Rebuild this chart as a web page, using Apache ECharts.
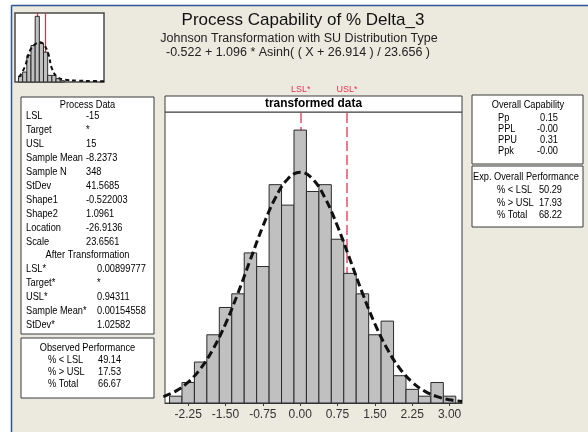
<!DOCTYPE html>
<html>
<head>
<meta charset="utf-8">
<script src="https://cdn.jsdelivr.net/npm/echarts@6.0.0/dist/echarts.min.js"></script>
<style>
  html, body { margin: 0; padding: 0; background: #fff; }
  #chart { width: 588px; height: 432px; }
</style>
</head>
<body>
<div id="chart"></div>
<script>
// transformed data histogram (bin width 0.25)
const binCenters = [-2.5, -2.25, -2.0, -1.75, -1.5, -1.25, -1.0, -0.75, -0.5, -0.25, 0, 0.25,
  0.5, 0.75, 1.0, 1.25, 1.5, 1.75, 2.0, 2.25, 2.5, 2.75, 3.0];
const binCounts = [1, 3, 6, 10, 14, 16, 22, 20, 32, 29, 40, 31, 32, 24, 19, 16, 10, 12, 4, 2, 1, 3, 1];
const binWidth = 0.25;

// fitted normal curve
const fitX = [-2.75, -2.5, -2.25, -2.0, -1.75, -1.5, -1.25, -1.0, -0.75, -0.5, -0.25, 0,
  0.25, 0.5, 0.75, 1.0, 1.25, 1.5, 1.75, 2.0, 2.25, 2.5, 2.75, 3.0, 3.25];
const fitY = [0.93, 1.74, 3.05, 5.06, 7.9, 11.61, 16.1, 21.04, 25.9, 30.04, 32.84, 33.83,
  32.84, 30.04, 25.9, 21.04, 16.1, 11.61, 7.9, 5.06, 3.05, 1.74, 0.93, 0.47, 0.22];

const xTicks = [-2.25, -1.5, -0.75, 0, 0.75, 1.5, 2.25, 3.0];
const lslT = 0.00899777;
const uslT = 0.94311;

// small histogram of the original data (bin width 15)
const miniCenters = [-75, -60, -45, -30, -15, 0, 15, 30, 45, 60, 75];
const miniCounts = [9, 15, 40, 55, 99, 58, 45, 10, 10, 5, 2];
const miniWidth = 15;
const miniFitX = [-80, -60, -41, -21, -4, 11, 25, 38, 57, 84, 130, 182, 225];
const miniFitY = [7.5, 22.5, 47.5, 57.5, 60, 55, 42.5, 20, 7.5, 3.5, 2, 1.5, 1];
const lsl = -15;
const usl = 15;

// text panels
const processRows = [['LSL', '-15'], ['Target', '*'], ['USL', '15'], ['Sample Mean', '-8.2373'],
  ['Sample N', '348'], ['StDev', '41.5685'], ['Shape1', '-0.522003'], ['Shape2', '1.0961'],
  ['Location', '-26.9136'], ['Scale', '23.6561']];
const afterRows = [['LSL*', '0.00899777'], ['Target*', '*'], ['USL*', '0.94311'],
  ['Sample Mean*', '0.00154558'], ['StDev*', '1.02582']];
const observedRows = [['% < LSL', '49.14'], ['% > USL', '17.53'], ['% Total', '66.67']];
const capabilityRows = [['Pp', '0.15'], ['PPL', '-0.00'], ['PPU', '0.31'], ['Ppk', '-0.00']];
const expectedRows = [['% < LSL', '50.29'], ['% > USL', '17.93'], ['% Total', '68.22']];

const FONT = "'Liberation Sans', Arial, sans-serif";
const panelFont = '11px ' + FONT;

// panel text is narrow in the original (Tahoma), so squeeze it a bit
function txt(x, y, text, opts) {
  opts = opts || {};
  return {
    type: 'text', x: x, y: y, z: 10,
    scaleX: opts.scaleX || 0.84,
    style: {
      text: text,
      font: opts.font || panelFont,
      fill: opts.fill || '#000',
      align: opts.align || 'left',
      verticalAlign: 'middle'
    }
  };
}

function box(x, y, w, h) {
  return {
    type: 'rect', z: 5,
    shape: { x: x, y: y, width: w, height: h },
    style: { fill: '#fff', stroke: '#3a3a3a', lineWidth: 1 }
  };
}

function histRender(width) {
  return function (params, api) {
    const c = api.value(0), n = api.value(1);
    const p0 = api.coord([c - width / 2, n]);
    const p1 = api.coord([c + width / 2, 0]);
    return {
      type: 'rect',
      shape: { x: p0[0], y: p0[1], width: p1[0] - p0[0], height: p1[1] - p0[1] },
      style: { fill: '#c0c0c0', stroke: '#2a2a2a', lineWidth: 1 }
    };
  };
}

let elements = [];
// window edge
elements.push({ type: 'rect', shape: { x: 0, y: 0, width: 588, height: 5 }, style: { fill: '#fff' } });
elements.push({ type: 'rect', shape: { x: 0, y: 0, width: 11, height: 432 }, style: { fill: '#fff' } });
elements.push({ type: 'line', shape: { x1: 11.5, y1: 5.5, x2: 588, y2: 5.5 }, style: { stroke: '#2b5797', lineWidth: 1.5 } });
elements.push({ type: 'line', shape: { x1: 11.5, y1: 5.5, x2: 11.5, y2: 432 }, style: { stroke: '#2b5797', lineWidth: 1.5 } });

// titles
elements.push(txt(303, 20, 'Process Capability of % Delta_3', { font: '17px ' + FONT, align: 'center', fill: '#111', scaleX: 1 }));
elements.push(txt(299, 38.5, 'Johnson Transformation with SU Distribution Type', { font: '12.5px ' + FONT, align: 'center', fill: '#222', scaleX: 1 }));
elements.push(txt(298, 53, '-0.522 + 1.096 * Asinh( ( X + 26.914 ) / 23.656 )', { font: '12.5px ' + FONT, align: 'center', fill: '#222', scaleX: 1 }));

// histogram header
elements.push({ type: 'rect', z: 5, shape: { x: 165, y: 96, width: 297, height: 16 }, style: { fill: '#fff', stroke: '#3a3a3a', lineWidth: 1 } });
elements.push(txt(313.5, 104, 'transformed data', { font: 'bold 12.5px ' + FONT, align: 'center', scaleX: 0.95 }));

// process data panel
elements.push(box(21, 97, 133, 237));
elements.push(txt(87.5, 105, 'Process Data', { align: 'center' }));
processRows.forEach(function (r, i) {
  const y = 116 + i * 14;
  elements.push(txt(26, y, r[0]));
  elements.push(txt(86, y, r[1]));
});
elements.push(txt(87.5, 255, 'After Transformation', { align: 'center' }));
afterRows.forEach(function (r, i) {
  const y = 269 + i * 14;
  elements.push(txt(26, y, r[0]));
  elements.push(txt(97, y, r[1]));
});

// observed performance
elements.push(box(21, 338, 133, 60));
elements.push(txt(87.5, 348, 'Observed Performance', { align: 'center' }));
observedRows.forEach(function (r, i) {
  const y = 360 + i * 12;
  elements.push(txt(48, y, r[0]));
  elements.push(txt(98, y, r[1]));
});

// overall capability
elements.push(box(472, 95, 111, 69));
elements.push(txt(528, 105, 'Overall Capability', { align: 'center' }));
capabilityRows.forEach(function (r, i) {
  const y = 118 + i * 11;
  elements.push(txt(498, y, r[0]));
  elements.push(txt(558, y, r[1], { align: 'right' }));
});

// expected overall performance
elements.push(box(472, 166, 111, 61));
elements.push(txt(473, 177, 'Exp. Overall Performance'));
expectedRows.forEach(function (r, i) {
  const y = 190 + i * 12.5;
  elements.push(txt(497, y, r[0]));
  elements.push(txt(562, y, r[1], { align: 'right' }));
});

const chart = echarts.init(document.getElementById('chart'), null, { renderer: 'canvas' });

const option = {
  backgroundColor: '#ece9df',
  animation: false,
  grid: [
    { left: 165, top: 112, width: 297, height: 291, show: true, backgroundColor: '#fff', borderColor: '#3a3a3a', borderWidth: 1 },
    { left: 15, top: 13, width: 89, height: 69, show: true, backgroundColor: '#fff', borderColor: '#4a4a4a', borderWidth: 1.5 }
  ],
  xAxis: [
    {
      type: 'value', gridIndex: 0, min: -2.716, max: 3.25,
      axisLine: { show: true, lineStyle: { color: '#3a3a3a' } },
      axisTick: { show: true, customValues: xTicks, length: 3, lineStyle: { color: '#3a3a3a' } },
      axisLabel: {
        customValues: xTicks, margin: 6, fontSize: 12, color: '#333',
        fontFamily: FONT,
        formatter: function (v) { return v.toFixed(2); }
      },
      splitLine: { show: false }
    },
    {
      type: 'value', gridIndex: 1, min: -95, max: 225,
      axisLine: { show: false }, axisTick: { show: false }, axisLabel: { show: false }, splitLine: { show: false }
    }
  ],
  yAxis: [
    { type: 'value', gridIndex: 0, min: 0, max: 42.65, show: false, splitLine: { show: false } },
    { type: 'value', gridIndex: 1, min: 0, max: 104, show: false, splitLine: { show: false } }
  ],
  graphic: { elements: elements },
  series: [
    {
      type: 'line', xAxisIndex: 0, yAxisIndex: 0, data: [], silent: true,
      markLine: {
        z: 1, silent: true, symbol: 'none',
        lineStyle: { color: '#e8506a', type: [10, 4], width: 1.5 },
        label: { show: true, position: 'end', distance: 18, color: '#e8334f', fontSize: 9, fontFamily: FONT },
        data: [
          { xAxis: lslT, label: { formatter: 'LSL*' } },
          { xAxis: uslT, label: { formatter: 'USL*' } }
        ]
      }
    },
    {
      type: 'custom', xAxisIndex: 0, yAxisIndex: 0, z: 2,
      renderItem: histRender(binWidth),
      data: binCenters.map(function (c, i) { return [c, binCounts[i]]; })
    },
    {
      type: 'line', xAxisIndex: 0, yAxisIndex: 0, z: 3, smooth: 0.4, showSymbol: false, clip: true,
      lineStyle: { color: '#111', width: 3, type: [8, 4] },
      data: fitX.map(function (x, i) { return [x, fitY[i]]; })
    },
    {
      type: 'line', xAxisIndex: 1, yAxisIndex: 1, data: [], silent: true,
      markLine: {
        z: 1, silent: true, symbol: 'none', label: { show: false },
        lineStyle: { color: '#e03040', type: 'solid', width: 1.2 },
        data: [{ xAxis: lsl }, { xAxis: usl }]
      }
    },
    {
      type: 'custom', xAxisIndex: 1, yAxisIndex: 1, z: 2,
      renderItem: histRender(miniWidth),
      data: miniCenters.map(function (c, i) { return [c, miniCounts[i]]; })
    },
    {
      type: 'line', xAxisIndex: 1, yAxisIndex: 1, z: 3, smooth: 0.4, showSymbol: false, clip: true,
      lineStyle: { color: '#111', width: 2, type: [4, 3] },
      data: miniFitX.map(function (x, i) { return [x, miniFitY[i]]; })
    }
  ]
};

chart.setOption(option);
</script>
</body>
</html>
